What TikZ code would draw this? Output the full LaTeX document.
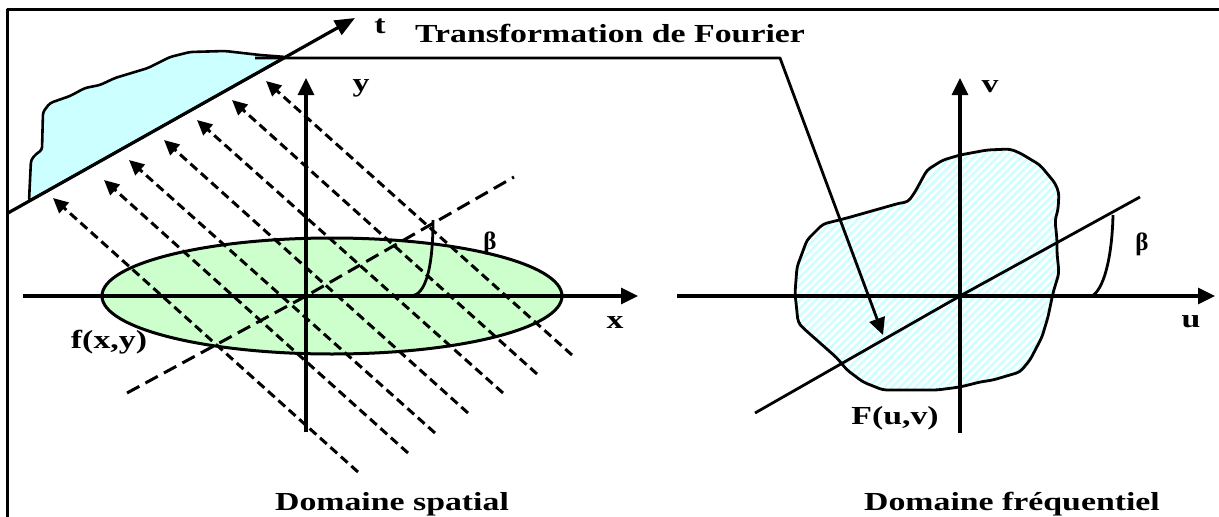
\documentclass[tikz,border=0pt]{standalone}
\usepackage{fontspec}
\setmainfont{Liberation Serif}
\usetikzlibrary{arrows.meta, patterns.meta}

\definecolor{cyanfill}{RGB}{204,255,255}
\definecolor{greenfill}{RGB}{204,255,204}
\newcommand{\widetxt}[1]{\scalebox{1.3}[1]{#1}}

\begin{document}
\begin{tikzpicture}[x=1pt, y=-1pt, line join=round,
    lbl/.style={font=\fontsize{26}{28}\selectfont\bfseries, inner sep=0pt, anchor=base},
    greek/.style={font=\fontsize{25}{27}\selectfont\bfseries, inner sep=0pt},
    axis/.style={line width=3.2pt, -{Triangle[length=17pt,width=16pt]}},
    proj/.style={line width=3pt, dash pattern=on 9pt off 5pt, -{Triangle[length=15pt,width=14pt]}},
    rotaxis/.style={line width=3pt, dash pattern=on 14pt off 7pt},
    angarc/.style={line width=2.8pt}]
    \useasboundingbox (0,0) rectangle (1219,517);
    \fill[white] (0,0) rectangle (1219,517);
    \draw[line width=3pt] (7,517) -- (7,9) -- (1219,9);

    % domaine spatial
    \coordinate (O1) at (306,296);
    \coordinate (xbeg) at (23,296);
    \coordinate (xtip) at (638,296);
    \coordinate (ybeg) at (306,432);
    \coordinate (ytip) at (306,78);
    \coordinate (tbeg) at (8,213);
    \coordinate (ttip) at (355,18);

    \filldraw[fill=cyanfill, line width=2.6pt, rounded corners=3pt]
        (29,201) -- (31,160) -- (36,154) -- (42,150) -- (43,112) -- (50,103)
        -- (70,96) -- (85,88) -- (100,85) -- (115,78) -- (148,68) -- (160,62)
        -- (170,57) -- (190,52) -- (225,51) -- (260,55) -- (286,57) -- cycle;
    \filldraw[fill=greenfill, line width=3pt] (332,296) ellipse [x radius=230, y radius=58];

    \foreach \ax/\ay/\bx/\by in {358/472/53/198, 408/453/104/180, 435/433/129/160,
        468/413/164/140, 503/393/197/120, 537/374/232/100, 572/355/266/81}
        \draw[proj] (\ax,\ay) -- (\bx,\by);
    \draw[rotaxis] (127,393) -- (O1) -- (514,177);

    \draw[axis] (xbeg) -- (xtip);
    \draw[axis] (ybeg) -- (ytip);
    \draw[angarc] (412,296) .. controls (425,294) and (433,270) .. (433,220);
    \draw[line width=3.2pt, -{Triangle[length=20pt,width=16pt]}] (tbeg) -- (ttip);

    \node[lbl] (lblt) at (380,33) {\widetxt{t}};
    \node[lbl] (lbly) at (361,91) {\widetxt{y}};
    \node[lbl] (lblx) at (615,328) {\widetxt{x}};
    \node[lbl] (fxy) at (109,348) {\widetxt{f(x,y)}};
    \node[greek] (betaL) at (490,243) {β};
    \node[lbl] (spatial) at (392,510) {\widetxt{Domaine spatial}};

    % domaine frequentiel
    \coordinate (O2) at (960,296);
    \coordinate (ubeg) at (677,296);
    \coordinate (utip) at (1215,296);
    \coordinate (vbeg) at (960,433);
    \coordinate (vtip) at (960,78);

    \draw[line width=2.8pt, pattern={Lines[angle=45, distance=5.5pt, line width=2.5pt]},
        pattern color=cyanfill, rounded corners=4pt]
        (950,158) -- (960,155) -- (987,150) -- (1010,149) -- (1020,153) -- (1040,165)
        -- (1055,183) -- (1059,193) -- (1058,210) -- (1055,220) -- (1057,240)
        -- (1057,253) -- (1059,273) -- (1053,293) -- (1048,317) -- (1042,337)
        -- (1030,360) -- (1020,372) -- (993,380) -- (980,382) -- (960,387)
        -- (937,390) -- (883,390) -- (863,382) -- (847,370) -- (837,358)
        -- (802,327) -- (798,322) -- (795,293) -- (797,267) -- (807,240)
        -- (823,224) -- (847,218) -- (900,203) -- (908,202) -- (915,192)
        -- (927,170) -- (943,160) -- cycle;

    \draw[axis] (ubeg) -- (utip);
    \draw[axis] (vbeg) -- (vtip);
    \draw[line width=2.8pt] (755,413) -- (O2) -- (1140,197);
    \draw[angarc] (1092,296) .. controls (1103,290) and (1112,260) .. (1113,215);

    \node[lbl] (lblv) at (990,92) {\widetxt{v}};
    \node[lbl] (lblu) at (1191,327) {\widetxt{u}};
    \node[lbl] (Fuv) at (895,424) {\widetxt{F(u,v)}};
    \node[greek] (betaR) at (1142,244) {β};
    \node[lbl] (freq) at (1012,510) {\widetxt{Domaine fréquentiel}};

    % transformation
    \coordinate (src) at (255,58);
    \coordinate (bend) at (780,58);
    \coordinate (dst) at (883,335);
    \draw[line width=2.8pt, -{Triangle[length=17pt,width=16pt]}] (src) -- (bend) -- (dst);
    \node[lbl] (title) at (610,42) {\widetxt{Transformation de Fourier}};
\end{tikzpicture}
\end{document}
